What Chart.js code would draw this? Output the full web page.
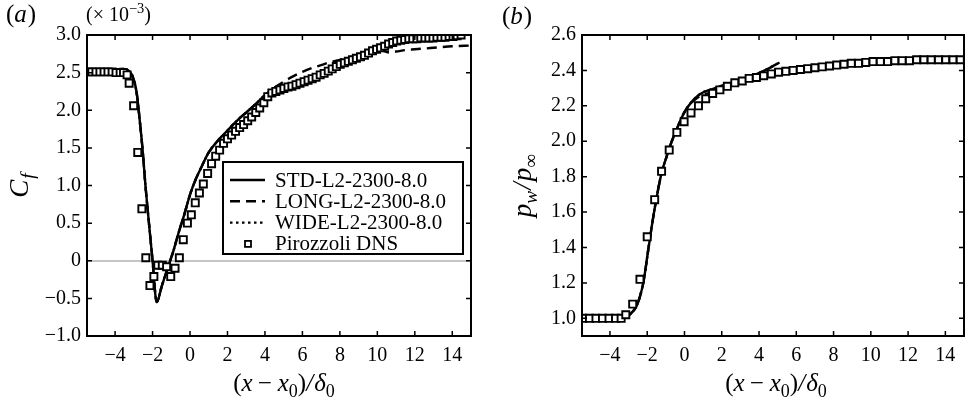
<!DOCTYPE html>
<html><head><meta charset="utf-8">
<script src="https://cdn.jsdelivr.net/npm/chart.js@4.4.1/dist/chart.umd.min.js"></script>
<style>
html,body{margin:0;padding:0;background:#fff;width:966px;height:404px;overflow:hidden}
canvas{position:absolute;top:0}
#ca{left:0}#cb{left:483px}
</style></head><body>
<canvas id="ca" width="483" height="404"></canvas>
<canvas id="cb" width="483" height="404"></canvas>
<script>
// ---------- tick labels ----------
const xTickValues = [-4,-2,0,2,4,6,8,10,12,14];
const aYTickValues = [-1.0,-0.5,0,0.5,1.0,1.5,2.0,2.5,3.0];
const bYTickValues = [1.0,1.2,1.4,1.6,1.8,2.0,2.2,2.4,2.6];

// ---------- series labels ----------
const seriesLabels = ['STD-L2-2300-8.0','LONG-L2-2300-8.0','WIDE-L2-2300-8.0','Pirozzoli DNS'];

// ---------- panel (a): skin friction Cf (x10^-3) ----------
const aStdX = [-5.5,-5.0,-4.5,-4.0,-3.6,-3.3,-3.1,-3.0,-2.92,-2.82,-2.74,-2.63,-2.53,-2.38,-2.2,-2.0,-1.78,-1.5,-1.2,-0.9,-0.6,-0.3,0.0,0.3,0.6,1.0,1.5,2.0,2.5,3.0,3.5,4.0,4.5,5.2];
const aStdY = [2.52,2.53,2.53,2.54,2.55,2.53,2.47,2.40,2.33,2.18,2.00,1.73,1.47,1.00,0.52,0.00,-0.55,-0.33,-0.10,0.12,0.38,0.62,0.88,1.08,1.24,1.44,1.60,1.73,1.86,1.97,2.08,2.20,2.27,2.33];
const aLongX = [-5.5,-5.0,-4.5,-4.0,-3.6,-3.3,-3.1,-3.0,-2.92,-2.82,-2.74,-2.63,-2.53,-2.38,-2.2,-2.0,-1.78,-1.5,-1.2,-0.9,-0.6,-0.3,0.0,0.3,0.6,1.0,1.5,2.0,2.5,3.0,3.5,4.0,4.5,5.0,5.5,6.0,6.5,7.0,7.5,8.0,8.5,9.0,9.5,10.0,10.3,10.6,11.0,11.5,12.0,13.0,14.0,15.0];
const aLongY = [2.52,2.53,2.53,2.54,2.55,2.53,2.47,2.40,2.33,2.18,2.00,1.73,1.47,1.00,0.52,0.00,-0.55,-0.33,-0.10,0.12,0.38,0.62,0.88,1.08,1.24,1.44,1.60,1.73,1.86,1.97,2.08,2.20,2.30,2.38,2.45,2.51,2.56,2.60,2.64,2.67,2.70,2.73,2.76,2.79,2.79,2.77,2.78,2.80,2.81,2.83,2.85,2.86];
const aWideX = [-5.5,-5.0,-4.5,-4.0,-3.6,-3.3,-3.1,-3.0,-2.92,-2.82,-2.74,-2.63,-2.53,-2.38,-2.2,-2.0,-1.78,-1.5,-1.2,-0.9,-0.6,-0.3,0.0,0.3,0.6,1.0,1.5,2.0,2.5,3.0,3.5,4.0,4.5,5.2];
const aWideY = [2.52,2.53,2.53,2.54,2.55,2.53,2.47,2.40,2.33,2.18,2.00,1.73,1.47,1.00,0.52,0.00,-0.54,-0.33,-0.10,0.12,0.38,0.62,0.88,1.08,1.24,1.44,1.60,1.73,1.86,1.97,2.08,2.20,2.27,2.33];
const aDnsX = [-5.45,-5.24,-5.02,-4.81,-4.59,-4.38,-4.16,-3.95,-3.73,-3.55,-3.36,-3.25,-3.01,-2.79,-2.57,-2.36,-2.14,-1.93,-1.72,-1.48,-1.25,-1.03,-0.80,-0.57,-0.36,-0.14,0.07,0.28,0.50,0.71,0.94,1.15,1.37,1.58,1.79,2.00,2.22,2.43,2.65,2.86,3.08,3.29,3.51,3.72,3.94,4.15,4.37,4.58,4.80,5.01,5.23,5.44,5.66,5.87,6.09,6.30,6.52,6.73,6.95,7.16,7.38,7.59,7.81,8.02,8.24,8.45,8.67,8.88,9.10,9.31,9.53,9.74,9.96,10.17,10.39,10.60,10.82,11.03,11.25,11.46,11.68,11.89,12.11,12.32,12.54,12.75,12.97,13.18,13.40,13.61,13.83,14.04,14.26,14.47];
const aDnsY = [2.51,2.51,2.51,2.51,2.51,2.51,2.51,2.50,2.50,2.50,2.47,2.36,2.06,1.44,0.69,0.04,-0.33,-0.21,-0.06,-0.06,-0.08,-0.21,-0.10,0.04,0.28,0.50,0.61,0.77,0.90,1.02,1.16,1.29,1.39,1.47,1.56,1.62,1.67,1.72,1.77,1.81,1.86,1.91,1.97,2.03,2.10,2.18,2.23,2.25,2.27,2.29,2.31,2.32,2.34,2.36,2.38,2.40,2.42,2.44,2.47,2.49,2.52,2.55,2.58,2.61,2.63,2.65,2.67,2.69,2.71,2.73,2.76,2.79,2.81,2.83,2.85,2.88,2.90,2.92,2.93,2.94,2.95,2.95,2.95,2.96,2.96,2.96,2.96,2.97,2.97,2.97,2.98,2.98,2.99,3.00];

// ---------- panel (b): wall pressure pw/pinf ----------
const bStdX = [-5.5,-4.5,-3.6,-3.3,-3.1,-2.85,-2.57,-2.4,-2.21,-1.94,-1.68,-1.41,-1.21,-1.0,-0.82,-0.41,0.03,0.75,1.64,2.53,3.42,4.31,5.1];
const bStdY = [1.0,1.0,1.0,1.002,1.01,1.03,1.07,1.12,1.20,1.39,1.57,1.73,1.83,1.90,1.96,2.07,2.17,2.26,2.30,2.33,2.36,2.40,2.445];
const bLongX = [-5.5,-4.5,-3.6,-3.3,-3.1,-2.85,-2.57,-2.4,-2.21,-1.94,-1.68,-1.41,-1.21,-1.0,-0.82,-0.41,0.03,0.75,1.64,2.53,3.42,4.31,5.5,7.0,9.0,11.0,13.0,15.0];
const bLongY = [1.0,1.0,1.0,1.002,1.01,1.03,1.07,1.12,1.20,1.39,1.57,1.73,1.83,1.90,1.96,2.07,2.17,2.25,2.28,2.32,2.35,2.37,2.39,2.415,2.44,2.45,2.46,2.46];
const bWideX = [-5.5,-4.5,-3.6,-3.3,-3.1,-2.85,-2.57,-2.4,-2.21,-1.94,-1.68,-1.41,-1.21,-1.0,-0.82,-0.41,0.03,0.75,1.64,2.53,3.42,4.31,5.1];
const bWideY = [1.0,1.0,1.0,1.002,1.01,1.03,1.07,1.12,1.20,1.39,1.57,1.73,1.83,1.90,1.96,2.07,2.17,2.26,2.30,2.33,2.36,2.40,2.445];
const bDnsX = [-5.45,-5.10,-4.75,-4.40,-4.05,-3.70,-3.40,-3.15,-2.78,-2.39,-2.00,-1.60,-1.23,-0.82,-0.41,-0.02,0.35,0.75,1.14,1.51,1.90,2.30,2.70,3.10,3.47,3.86,4.25,4.66,5.05,5.44,5.83,6.22,6.61,7.00,7.39,7.78,8.17,8.56,8.95,9.34,9.73,10.12,10.51,10.90,11.29,11.68,12.07,12.46,12.85,13.24,13.63,14.02,14.41,14.80];
const bDnsY = [1.00,1.00,1.00,1.00,1.00,1.00,1.00,1.02,1.08,1.22,1.46,1.67,1.83,1.95,2.05,2.11,2.16,2.20,2.24,2.27,2.29,2.31,2.33,2.34,2.355,2.36,2.37,2.38,2.39,2.395,2.40,2.405,2.41,2.415,2.42,2.425,2.43,2.435,2.44,2.44,2.445,2.45,2.45,2.45,2.455,2.455,2.455,2.46,2.46,2.46,2.46,2.46,2.46,2.46];

// ---------- helpers ----------
const FONT = '"Liberation Serif", "Times New Roman", Times, serif';
function pts(xs, ys){ return xs.map((x,i)=>({x:x, y:ys[i]})); }
function fmt(v, dec){ if (Math.abs(v) < 1e-9) return '0'; const s = Math.abs(v).toFixed(dec); return v < 0 ? '\u2212' + s : s; }
function segFont(s, size){ const sz = (s.sub || s.sup) ? size*0.72 : size; return (s.it ? 'italic ' : '') + sz.toFixed(1) + 'px ' + FONT; }
function segW(ctx, s, size){ if (s.gap) return s.gap; ctx.font = segFont(s,size); return ctx.measureText(s.t).width; }
function richWidth(ctx, segs, size){ let w = 0; for (const s of segs) w += segW(ctx, s, size); return w; }
function drawRich(ctx, segs, x, y, size, align){
  const w = richWidth(ctx, segs, size);
  let cx = align === 'center' ? x - w/2 : (align === 'right' ? x - w : x);
  ctx.textAlign = 'left'; ctx.textBaseline = 'alphabetic'; ctx.fillStyle = '#000';
  for (const s of segs){
    if (!s.gap){
      ctx.font = segFont(s, size);
      const dy = s.sub ? size*0.24 : (s.sup ? -size*0.38 : 0);
      ctx.fillText(s.t, cx, y + dy);
    }
    cx += segW(ctx, s, size);
  }
}

function lineDs(label, xs, ys, dash, order){
  return { label: label, data: pts(xs, ys), borderColor: '#000', borderWidth: 2.4, borderDash: dash,
    pointRadius: 0, fill: false, cubicInterpolationMode: 'monotone', order: order };
}
function dnsDs(label, xs, ys){
  return { label: label, data: pts(xs, ys), showLine: false, pointStyle: 'rect', pointRadius: 5,
    pointBorderWidth: 1.9, pointBorderColor: '#000', pointBackgroundColor: '#fff', borderColor:'#000', backgroundColor:'#fff', order: 0 };
}

const xTitle = [{t:'('},{t:'x',it:true},{gap:5},{t:'\u2212'},{gap:6},{t:'x',it:true},{t:'0',sub:true},{t:')'},{t:'/',it:true},{gap:1},{t:'\u03B4',it:true},{t:'0',sub:true}];

const decor = {
  id: 'decor',
  afterDatasetsDraw(chart, args, o){
    const ctx = chart.ctx, ca = chart.chartArea, xs = chart.scales.x, ys = chart.scales.y;
    ctx.save();
    ctx.strokeStyle = '#000'; ctx.lineWidth = 1.5;
    const L = 5;
    ctx.beginPath();
    xs.ticks.forEach(t => { const px = xs.getPixelForValue(t.value);
      ctx.moveTo(px, ca.bottom); ctx.lineTo(px, ca.bottom - L);
      ctx.moveTo(px, ca.top); ctx.lineTo(px, ca.top + L); });
    ys.ticks.forEach(t => { const py = ys.getPixelForValue(t.value);
      ctx.moveTo(ca.left, py); ctx.lineTo(ca.left + L, py);
      ctx.moveTo(ca.right, py); ctx.lineTo(ca.right - L, py); });
    ctx.stroke();
    ctx.lineWidth = 2;
    ctx.strokeRect(ca.left, ca.top, ca.right - ca.left, ca.bottom - ca.top);
    drawRich(ctx, o.panel, o.panelX, o.panelY, 25, 'left');
    if (o.scaleNote) drawRich(ctx, o.scaleNote, o.scaleX, o.scaleY, 20, 'left');
    drawRich(ctx, xTitle, (ca.left + ca.right)/2 + o.xTitleDx, 391, 25, 'center');
    ctx.save();
    ctx.translate(o.yTitleX, (ca.top + ca.bottom)/2 + o.yTitleDy);
    ctx.rotate(-Math.PI/2);
    drawRich(ctx, o.yTitle, 0, 0, 27, 'center');
    ctx.restore();
    if (o.legend){
      const b = o.legend;
      ctx.fillStyle = '#fff'; ctx.fillRect(b.x, b.y, b.w, b.h);
      ctx.lineWidth = 2; ctx.strokeStyle = '#000'; ctx.strokeRect(b.x, b.y, b.w, b.h);
      const dss = chart.data.datasets;
      dss.forEach((d, i) => {
        const yy = b.y + 18 + i*21.3;
        ctx.strokeStyle = '#000';
        if (d.showLine === false){
          ctx.lineWidth = 1.8; ctx.fillStyle = '#fff';
          ctx.fillRect(b.x + 22, yy - 3, 6, 6); ctx.strokeRect(b.x + 22, yy - 3, 6, 6);
        } else {
          ctx.lineWidth = 2.4; ctx.setLineDash(d.borderDash || []);
          ctx.beginPath(); ctx.moveTo(b.x + 7, yy); ctx.lineTo(b.x + 42, yy); ctx.stroke();
          ctx.setLineDash([]);
        }
        ctx.fillStyle = '#000'; ctx.font = '21px ' + FONT; ctx.textAlign = 'left'; ctx.textBaseline = 'middle';
        ctx.fillText(d.label, b.x + 52, yy + 1);
      });
    }
    ctx.restore();
  }
};

function makeChart(id, cfg){
  return new Chart(document.getElementById(id), {
    type: 'line',
    data: { datasets: cfg.datasets },
    options: {
      responsive: false, animation: false, devicePixelRatio: 1,
      layout: { autoPadding: false, padding: { left: 0, right: cfg.padRight, top: 35, bottom: 0 } },
      plugins: { legend: { display: false }, tooltip: { enabled: false }, decor: cfg.decor },
      scales: {
        x: { type: 'linear', min: -5.5, max: 15,
          afterBuildTicks: s => { s.ticks = xTickValues.map(v => ({ value: v })); },
          afterFit: s => { s.height = 68; },
          grid: { display: false, drawTicks: false }, border: { display: false },
          ticks: { padding: 8, color: '#000', font: { family: FONT, size: 20 }, autoSkip: false, maxRotation: 0,
            callback: v => fmt(v, 0) } },
        y: { type: 'linear', min: cfg.yMin, max: cfg.yMax,
          afterBuildTicks: s => { s.ticks = cfg.yTicks.map(v => ({ value: v })); },
          afterFit: s => { s.width = cfg.yWidth; },
          grid: cfg.yGrid, border: { display: false },
          ticks: { padding: 6, color: '#000', font: { family: FONT, size: 20 }, autoSkip: false,
            callback: v => fmt(v, 1) } }
      }
    },
    plugins: [decor]
  });
}

makeChart('ca', {
  datasets: [
    lineDs(seriesLabels[0], aStdX, aStdY, [], 1),
    lineDs(seriesLabels[1], aLongX, aLongY, [10,6], 2),
    lineDs(seriesLabels[2], aWideX, aWideY, [2.5,3.5], 3),
    dnsDs(seriesLabels[3], aDnsX, aDnsY)
  ],
  padRight: 12, yMin: -1, yMax: 3, yTicks: aYTickValues, yWidth: 87,
  yGrid: { display: true, drawTicks: false, lineWidth: 2,
    color: c => (c.tick && Math.abs(c.tick.value) < 1e-9) ? '#c6c6c6' : 'rgba(0,0,0,0)' },
  decor: {
    panel: [{t:'('},{t:'a',it:true},{gap:1},{t:')'}], panelX: 6, panelY: 22,
    scaleNote: [{t:'(\u00D7 10'},{t:'\u22123',sup:true},{t:')'}], scaleX: 86, scaleY: 21,
    xTitleDx: 5, yTitle: [{t:'C',it:true},{gap:1},{t:'f',it:true,sub:true}], yTitleX: 28, yTitleDy: 0,
    legend: { x: 223, y: 162, w: 240, h: 92 }
  }
});

makeChart('cb', {
  datasets: [
    lineDs(seriesLabels[0], bStdX, bStdY, [], 1),
    lineDs(seriesLabels[1], bLongX, bLongY, [10,6], 2),
    lineDs(seriesLabels[2], bWideX, bWideY, [2.5,3.5], 3),
    dnsDs(seriesLabels[3], bDnsX, bDnsY)
  ],
  padRight: 2, yMin: 0.9, yMax: 2.6, yTicks: bYTickValues, yWidth: 99,
  yGrid: { display: false, drawTicks: false },
  decor: {
    panel: [{t:'('},{t:'b',it:true},{gap:1},{t:')'}], panelX: 19, panelY: 24,
    scaleNote: null,
    xTitleDx: 3, yTitle: [{t:'p',it:true},{t:'w',it:true,sub:true},{gap:1},{t:'/',it:true},{gap:1},{t:'p',it:true},{t:'\u221E',sub:true}], yTitleX: 48, yTitleDy: 0,
    legend: null
  }
});
</script>
</body></html>
